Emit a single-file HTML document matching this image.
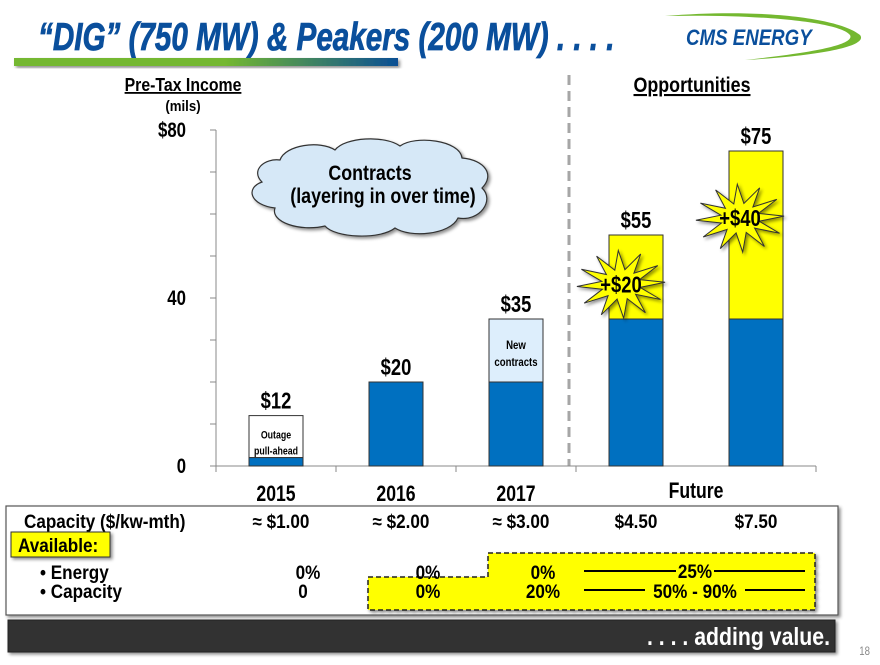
<!DOCTYPE html>
<html><head><meta charset="utf-8"><style>
html,body{margin:0;padding:0;background:#fff;}
body{width:880px;height:660px;overflow:hidden;position:relative;font-family:"Liberation Sans",sans-serif;}
svg text{font-family:"Liberation Sans",sans-serif;font-weight:bold;}
</style></head><body>
<svg id="c" width="880" height="660" viewBox="0 0 880 660" xmlns="http://www.w3.org/2000/svg">
<defs>
<linearGradient id="hb" x1="0" x2="1" y1="0" y2="0">
<stop offset="0" stop-color="#74b830"/><stop offset="0.55" stop-color="#74b830"/><stop offset="1" stop-color="#0b4f94"/></linearGradient>
<filter id="sh" x="-10%" y="-10%" width="130%" height="140%"><feDropShadow dx="2" dy="2" stdDeviation="1.5" flood-opacity="0.45"/></filter>
</defs>
<text x="38" y="50" font-size="39" fill="#0a4f9c" font-style="italic" data-squeeze="0.76" stroke="#0a4f9c" stroke-width="0.8">“DIG” (750 MW) &amp; Peakers (200 MW) . . . .</text>
<rect x="14" y="58" width="384" height="8" fill="url(#hb)" filter="url(#sh)"/>
<g>
<path d="M665,16 C760,8 840,18 860,35 C868,45 830,55 745,60 C820,52 855,44 850,35 C840,22 760,14 665,16Z" fill="#74b830"/>
<text x="686" y="45" font-size="22" fill="#0a4f9c" font-style="italic" data-squeeze="0.85">CMS ENERGY</text>
</g>
<text x="183" y="91" font-size="18" text-anchor="middle" text-decoration="underline" data-squeeze="0.88">Pre-Tax Income</text>
<text x="183" y="111" font-size="15" text-anchor="middle" data-squeeze="0.88">(mils)</text>
<text x="692" y="92" font-size="21" text-anchor="middle" text-decoration="underline" data-squeeze="0.85">Opportunities</text>
<line x1="569" y1="75" x2="569" y2="466" stroke="#a6a6a6" stroke-width="3" stroke-dasharray="10,6"/>
<g id="axes"></g>
<g id="bars"></g>
<g filter="url(#sh)" data-squeeze="0.85">
<path d="M280,160 C285,145 320,140 335,150 C345,137 385,135 400,146 C415,135 460,140 462,158 C485,160 495,175 482,188 C495,200 480,222 458,218 C450,235 410,238 395,228 C380,240 335,238 325,226 C300,232 270,222 275,208 C250,205 245,188 262,182 C250,170 265,158 280,160Z" fill="#d6e8f7" stroke="#333" stroke-width="1.2"/>
<text x="370" y="180" font-size="21" text-anchor="middle">Contracts</text>
<text x="383" y="203" font-size="21" text-anchor="middle">(layering in over time)</text>
</g>
<g id="bursts"></g>
<g data-squeeze="0.9">
<rect x="6" y="506" width="832" height="109" fill="#fff" stroke="#555" stroke-width="1.2" filter="url(#sh)"/>
<polygon points="488,553 815,553 815,610 368,610 368,577 488,577" fill="#ffff00" stroke="#222" stroke-width="1.5" stroke-dasharray="5,3" filter="url(#sh)"/>
<text x="24" y="528" font-size="19">Capacity ($/kw-mth)</text>
<rect x="11" y="532" width="99" height="25" fill="#ffff00" stroke="#333" stroke-width="1" filter="url(#sh)"/>
<text x="18" y="552" font-size="19">Available:</text>
<text x="40" y="579" font-size="19">• Energy</text>
<text x="40" y="598" font-size="19">• Capacity</text>
<g id="tbl" font-size="19"></g>
<line x1="584" y1="571" x2="676" y2="571" stroke="#000" stroke-width="2"/>
<line x1="714" y1="571" x2="805" y2="571" stroke="#000" stroke-width="2"/>
<line x1="584" y1="590" x2="645" y2="590" stroke="#000" stroke-width="2"/>
<line x1="745" y1="590" x2="805" y2="590" stroke="#000" stroke-width="2"/>
<text x="695" y="578" font-size="19" text-anchor="middle">25%</text>
<text x="695" y="598" font-size="19" text-anchor="middle">50% - 90%</text>
</g>
<rect x="8" y="620" width="827" height="32" fill="#333" stroke="#222" filter="url(#sh)"/>
<text x="830" y="645" font-size="25" fill="#fff" text-anchor="end" data-squeeze="0.85">. . . . adding value.</text>
<text x="870" y="655" font-size="12" fill="#888" text-anchor="end" style="font-weight:normal">18</text>
</svg>
<script>
const categories = ["2015","2016","2017","Future","Future"];
const baseValues = [2,20,20,35,35];
const topValues = [12,20,35,55,75];
const topLabels = ["$12","$20","$35","$55","$75"];
const yTicks = [0,40,80];
const capacityPrices = ["≈ $1.00","≈ $2.00","≈ $3.00","$4.50","$7.50"];
const energyAvail = ["0%","0%","0%"];
const capacityAvail = ["0","0%","20%"];
const NS="http://www.w3.org/2000/svg";
const x0=216, xw=120, yb=466, yt=130, yMax=80;
function y(v){return yb-(v/yMax)*(yb-yt);}
function cx(i){return x0+xw*(i+0.5);}
function mk(tag,attrs,parent,txt){const e=document.createElementNS(NS,tag);for(const k in attrs)e.setAttribute(k,attrs[k]);if(txt!==undefined)e.textContent=txt;parent.appendChild(e);return e;}
const ax=document.getElementById('axes');
let l=mk('line',{x1:x0,y1:yt,x2:x0,y2:yb,stroke:'#888','stroke-width':1},ax);


l=mk('line',{x1:x0,y1:yb,x2:x0+xw*5,y2:yb,stroke:'#888','stroke-width':1},ax);


for(let v=0;v<=yMax;v+=10){mk('line',{x1:x0-6,y1:y(v),x2:x0,y2:y(v),stroke:'#888'},ax);}
for(let i=0;i<=5;i++){if(i===4)continue;mk('line',{x1:x0+xw*i,y1:yb,x2:x0+xw*i,y2:yb+6,stroke:'#888'},ax);}
yTicks.forEach(v=>{const t=mk('text',{x:x0-30,y:y(v)+7,'font-size':21,'text-anchor':'end'},ax,(v===yMax?'$':'')+v);

});
for(let i=0;i<3;i++){const t=mk('text',{x:cx(i),y:501,'font-size':22,'text-anchor':'middle'},ax,categories[i]);

}
const ft=mk('text',{x:x0+xw*4,y:498,'font-size':22,'text-anchor':'middle'},ax,categories[3]);


const bg=document.getElementById('bars');
const topFill=['#ffffff','#0070c0','#ddeefc','#ffff00','#ffff00'];
const bw=54;
categories.forEach((c,i)=>{
 const x=cx(i)-bw/2;
 const tr=mk('rect',{x:x,y:y(topValues[i]),width:bw,height:y(baseValues[i])-y(topValues[i]),fill:topFill[i],stroke:'#333','stroke-width':1},bg);
 
 
 const br=mk('rect',{x:x,y:y(baseValues[i]),width:bw,height:yb-y(baseValues[i]),fill:'#0070c0',stroke:'#333','stroke-width':1},bg);
 
 
 const lb=mk('text',{x:cx(i),y:y(topValues[i])-7,'font-size':23,'text-anchor':'middle'},bg,topLabels[i]);
 
 
});
mk('text',{x:cx(0),y:y(7)+2,'font-size':11,'text-anchor':'middle'},bg,'Outage');
mk('text',{x:cx(0),y:y(3)+1,'font-size':11,'text-anchor':'middle'},bg,'pull-ahead');
mk('text',{x:cx(2),y:y(29)+5,'font-size':12,'text-anchor':'middle'},bg,'New');
mk('text',{x:cx(2),y:y(25)+5,'font-size':12,'text-anchor':'middle'},bg,'contracts');
const bu=document.getElementById('bursts');
function burst(x,yc,r1,r2,n,label){let p=[];for(let k=0;k<n*2;k++){const a=Math.PI*k/n+0.2;const r=k%2?r2:r1;p.push((x+Math.cos(a)*r*1.3).toFixed(1)+','+(yc+Math.sin(a)*r).toFixed(1));}
 const g=mk('g',{filter:'url(#sh)'},bu);
 
 
 mk('polygon',{points:p.join(' '),fill:'#ffff00',stroke:'#333','stroke-width':1},g);
 mk('text',{x:x,y:yc+8,'font-size':23,'text-anchor':'middle'},g,label);}
burst(cx(3)-15,y(43)-1,15,34,12,'+$'+(topValues[3]-baseValues[3]));
burst(cx(4)-16,y(59),15,34,12,'+$'+(topValues[4]-baseValues[4]));
const tb=document.getElementById('tbl');
capacityPrices.forEach((s,i)=>{const t=mk('text',{x:cx(i)+(i<3?5:0),y:528,'text-anchor':'middle'},tb,s);

});
const ex=[308,428,543];
energyAvail.forEach((s,i)=>{const t=mk('text',{x:ex[i],y:579,'text-anchor':'middle'},tb,s);

});
capacityAvail.forEach((s,i)=>{const t=mk('text',{x:ex[i]-(i===0?5:0),y:598,'text-anchor':'middle'},tb,s);

});
// condense all text (reference uses a narrow font)
document.querySelectorAll('svg text').forEach(t=>{
 const anc=t.closest('[data-squeeze]');
 const f=parseFloat(anc?anc.getAttribute('data-squeeze'):'0.8');
 const len=t.getComputedTextLength();
 if(len>0){t.setAttribute('textLength',(len*f).toFixed(1));t.setAttribute('lengthAdjust','spacingAndGlyphs');}
});
</script>
</body></html>
